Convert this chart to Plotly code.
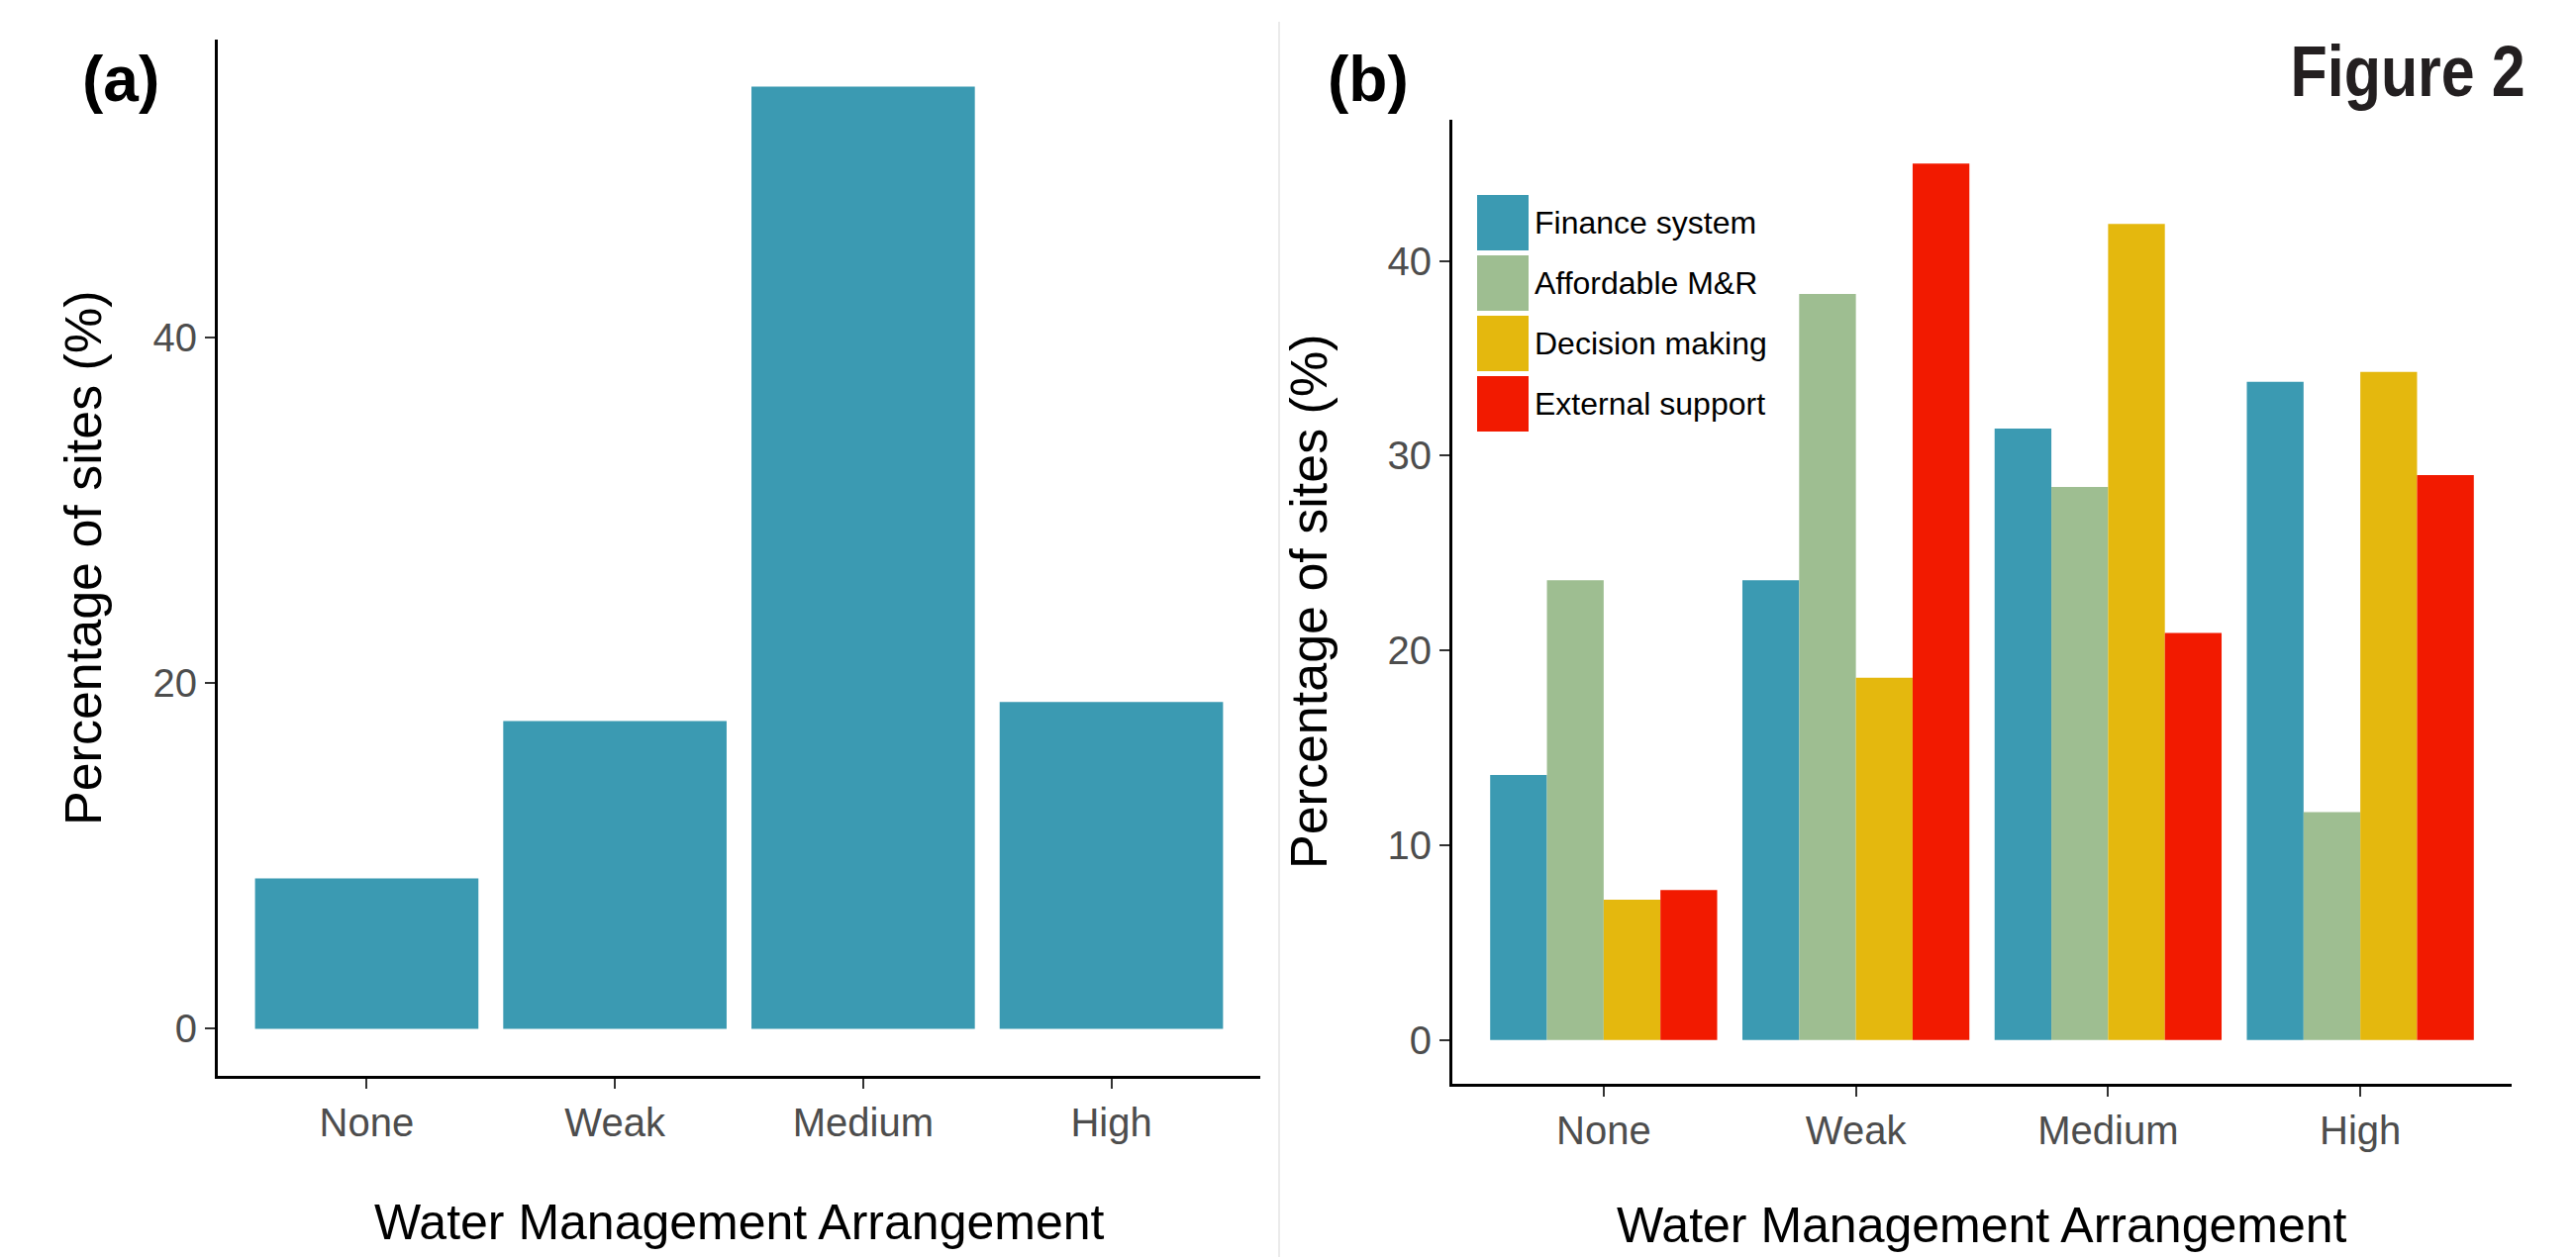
import plotly.graph_objects as go

# ---------------- data ----------------
categories = ["None", "Weak", "Medium", "High"]

# panel (a): percentage of sites per water management arrangement
overall_pct = [8.7, 17.8, 54.5, 18.9]

# panel (b): percentage of sites per indicator
series_names = ["Finance system", "Affordable M&R", "Decision making", "External support"]
finance_system = [13.6, 23.6, 31.4, 33.8]
affordable_mr = [23.6, 38.3, 28.4, 11.7]
decision_making = [7.2, 18.6, 41.9, 34.3]
external_support = [7.7, 45.0, 20.9, 29.0]
series_values = [finance_system, affordable_mr, decision_making, external_support]

y_ticks_a = [0, 20, 40]
y_ticks_b = [0, 10, 20, 30, 40]

# ---------------- styling ----------------
W, H = 2602, 1270
colors = ["#3B9AB2", "#9EBE91", "#E4B80E", "#F21A00"]
bar_color_a = "#3B9AB2"
FONT = "Liberation Sans, Arial, Helvetica, sans-serif"
TICK_COLOR = "#4D4D4D"


def px_x(x):
    return x / W


def px_y(y):
    return 1 - y / H


fig = go.Figure()

fig.add_trace(go.Bar(
    x=categories, y=overall_pct, marker=dict(color=bar_color_a, line=dict(width=0)),
    xaxis="x", yaxis="y", showlegend=False, width=0.9,
))

for name, vals, col in zip(series_names, series_values, colors):
    fig.add_trace(go.Bar(
        x=categories, y=vals, name=name,
        marker=dict(color=col, line=dict(width=0)),
        xaxis="x2", yaxis="y2", showlegend=False,
    ))


def axis_common():
    return dict(
        showline=True, linecolor="black", linewidth=3,
        ticks="outside", ticklen=10, tickwidth=2, tickcolor="#333333",
        showgrid=False, zeroline=False,
        tickfont=dict(family=FONT, size=40, color=TICK_COLOR),
    )


ya_max = max(overall_pct)
yb_max = max(max(v) for v in series_values)

fig.update_layout(
    width=W, height=H, autosize=False,
    margin=dict(l=0, r=0, t=0, b=0),
    paper_bgcolor="white", plot_bgcolor="white",
    barmode="group", bargap=0.1, bargroupgap=0.0,
    font=dict(family=FONT),
    xaxis=dict(domain=[px_x(220), px_x(1273)], anchor="y",
               range=[-0.6, len(categories) - 0.4], **axis_common()),
    yaxis=dict(domain=[px_y(1087), px_y(40)], anchor="x",
               range=[-0.05 * ya_max, 1.05 * ya_max],
               tickvals=y_ticks_a, **axis_common()),
    xaxis2=dict(domain=[px_x(1467), px_x(2537)], anchor="y2",
                range=[-0.6, len(categories) - 0.4], **axis_common()),
    yaxis2=dict(domain=[px_y(1095), px_y(121)], anchor="x2",
                range=[-0.05 * yb_max, 1.05 * yb_max],
                tickvals=y_ticks_b, **axis_common()),
)

annotations = []
xt_font = dict(family=FONT, size=50, color="black")
yt_font = dict(family=FONT, size=52, color="black")
annotations.append(dict(text="Water Management Arrangement", x=px_x(747), y=px_y(1235),
                        xref="paper", yref="paper", showarrow=False,
                        xanchor="center", yanchor="middle", font=xt_font))
annotations.append(dict(text="Water Management Arrangement", x=px_x(2002), y=px_y(1238),
                        xref="paper", yref="paper", showarrow=False,
                        xanchor="center", yanchor="middle", font=xt_font))
annotations.append(dict(text="Percentage of sites (%)", x=px_x(84), y=px_y(564),
                        xref="paper", yref="paper", showarrow=False, textangle=-90,
                        xanchor="center", yanchor="middle", font=yt_font))
annotations.append(dict(text="Percentage of sites (%)", x=px_x(1322), y=px_y(608),
                        xref="paper", yref="paper", showarrow=False, textangle=-90,
                        xanchor="center", yanchor="middle", font=yt_font))
annotations.append(dict(text="(a)", x=px_x(122), y=px_y(80),
                        xref="paper", yref="paper", showarrow=False,
                        xanchor="center", yanchor="middle",
                        font=dict(family=FONT, size=64, color="black", weight=700)))
annotations.append(dict(text="(b)", x=px_x(1382), y=px_y(80),
                        xref="paper", yref="paper", showarrow=False,
                        xanchor="center", yanchor="middle",
                        font=dict(family=FONT, size=64, color="black", weight=700)))
annotations.append(dict(text="Figure 2", x=px_x(2432), y=px_y(72),
                        xref="paper", yref="paper", showarrow=False,
                        xanchor="center", yanchor="middle",
                        font=dict(family="Liberation Sans Narrow, " + FONT,
                                  size=72, color="#231F20", weight=700)))

# manual legend with large keys
shapes = []
key_x0, key_x1 = 1492, 1544
row_top0, row_pitch, key_h = 197, 61, 56
for i, (name, col) in enumerate(zip(series_names, colors)):
    top = row_top0 + i * row_pitch
    shapes.append(dict(type="rect", xref="paper", yref="paper",
                       x0=px_x(key_x0), x1=px_x(key_x1),
                       y0=px_y(top + key_h), y1=px_y(top),
                       fillcolor=col, line=dict(width=0)))
    annotations.append(dict(text=name, x=px_x(1548), y=px_y(top + key_h / 2),
                            xref="paper", yref="paper", showarrow=False,
                            xanchor="left", yanchor="middle",
                            font=dict(family=FONT, size=32, color="black")))

# faint divider between panels
shapes.append(dict(type="line", xref="paper", yref="paper",
                   x0=px_x(1292), x1=px_x(1292), y0=0, y1=px_y(22),
                   line=dict(color="#EBEBEB", width=2)))

fig.update_layout(annotations=annotations, shapes=shapes)

post_js = """
document.body.style.margin = '0';
document.querySelectorAll('text.annotation-text').forEach(function (t) {
  if (t.textContent.trim() === 'Figure 2') {
    t.setAttribute('textLength', '237');
    t.setAttribute('lengthAdjust', 'spacingAndGlyphs');
  }
});
"""

fig.write_html("out.html", post_script=post_js, config={"displayModeBar": False})
